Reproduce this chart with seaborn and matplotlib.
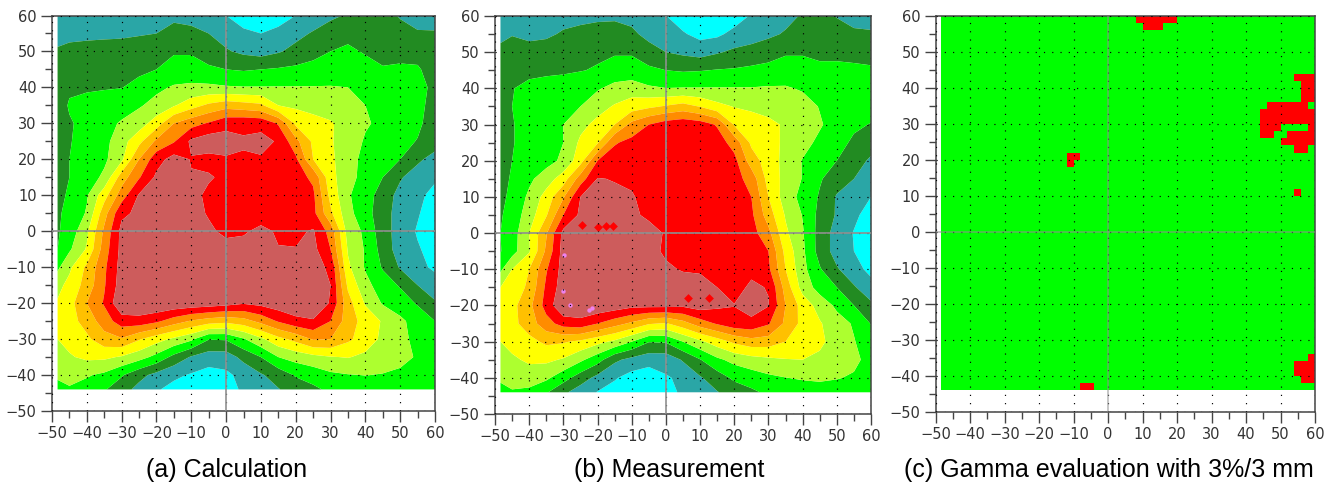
import matplotlib
matplotlib.use('Agg')
import matplotlib.pyplot as plt
import seaborn as sns
import numpy as np

# grid positions in mm
x_mm = [-48.4, -45, -40, -35, -30, -25, -20, -15, -10, -5, 0, 5, 10, 15, 20, 25, 30, 35, 40, 45, 50, 55, 60]
y_mm = [60, 55, 50, 45, 40, 35, 30, 25, 20, 15, 10, 5, 0, -5, -10, -15, -20, -25, -30, -35, -40, -44]

# dose, on the scale of the colour bands (one unit per band)
dose_calc = [
    [1.5, 1.5, 1.6, 1.6, 1.7, 1.7, 1.7, 1.8, 1.6, 1.3, 1.0, 0.5, 0.2, 0.5, 1.0, 1.4, 1.8, 2.1, 2.4, 2.4, 1.9, 1.6, 1.5],
    [1.7, 1.8, 1.8, 1.8, 1.8, 1.9, 2.0, 2.3, 2.3, 2.0, 1.6, 1.2, 1.0, 1.3, 1.7, 2.1, 2.5, 2.7, 2.8, 2.7, 2.4, 2.1, 2.1],
    [2.1, 2.2, 2.3, 2.4, 2.5, 2.6, 2.8, 2.9, 2.9, 2.4, 2.1, 1.8, 1.6, 1.9, 2.3, 2.7, 3.0, 3.2, 2.9, 2.8, 2.8, 2.7, 2.5],
    [2.4, 2.5, 2.5, 2.6, 2.7, 2.8, 3.0, 3.4, 3.4, 3.2, 3.0, 2.9, 3.0, 3.1, 3.2, 3.3, 3.5, 3.6, 3.4, 3.05, 3.1, 3.1, 2.6],
    [2.5, 2.85, 2.92, 2.93, 2.97, 3.3, 3.8, 4.1, 4.2, 4.2, 4.1, 4.05, 4.05, 4.05, 4.05, 4.05, 4.05, 4.0, 3.6, 3.5, 3.5, 3.4, 2.7],
    [2.5, 3.1, 3.2, 3.4, 3.6, 3.9, 4.3, 4.9, 5.6, 6.2, 6.6, 6.4, 6.2, 5.0, 4.8, 4.6, 4.5, 4.3, 4.0, 3.7, 3.5, 3.3, 2.6],
    [2.6, 2.9, 3.3, 3.7, 4.1, 4.5, 5.5, 7.0, 7.6, 8.1, 8.7, 8.8, 8.7, 7.9, 5.8, 5.4, 5.1, 4.6, 4.1, 3.8, 3.5, 3.2, 2.5],
    [2.6, 2.95, 3.3, 3.7, 4.6, 5.7, 7.2, 7.9, 9.2, 9.6, 9.4, 9.1, 9.3, 8.9, 7.3, 5.8, 5.1, 4.5, 3.9, 3.6, 3.3, 2.95, 2.5],
    [2.6, 3.0, 3.4, 3.8, 4.8, 7.0, 8.6, 9.4, 8.95, 8.7, 8.9, 8.9, 8.9, 8.95, 8.2, 6.0, 5.2, 4.4, 3.7, 3.3, 3.0, 2.2, 1.6],
    [2.7, 3.0, 3.5, 4.2, 6.5, 7.9, 9.2, 9.5, 9.05, 9.1, 8.8, 8.6, 8.5, 8.5, 8.4, 7.8, 5.3, 4.4, 3.6, 3.0, 2.1, 1.5, 1.2],
    [2.8, 3.1, 3.9, 5.6, 7.5, 9.1, 9.4, 9.5, 9.3, 8.8, 8.6, 8.5, 8.5, 8.5, 8.5, 8.2, 5.7, 4.1, 3.5, 2.5, 1.7, 1.3, 0.6],
    [2.9, 3.2, 4.1, 6.6, 8.8, 9.2, 9.4, 9.5, 9.4, 8.9, 8.6, 8.5, 8.6, 8.6, 8.5, 8.3, 6.2, 4.3, 3.4, 2.4, 1.6, 1.1, 0.4],
    [2.9, 3.4, 4.8, 7.2, 9.3, 9.5, 9.5, 9.5, 9.4, 9.2, 8.75, 8.9, 9.2, 8.9, 8.8, 9.1, 7.6, 4.6, 3.8, 2.4, 1.6, 0.9, 0.3],
    [3.0, 3.85, 5.1, 7.5, 9.3, 9.5, 9.6, 9.6, 9.5, 9.5, 9.4, 9.3, 9.3, 9.03, 9.03, 9.3, 8.0, 4.9, 3.9, 2.6, 1.5, 1.1, 0.6],
    [3.8, 4.8, 6.2, 7.8, 9.4, 9.6, 9.6, 9.6, 9.6, 9.6, 9.6, 9.5, 9.5, 9.5, 9.5, 9.4, 8.8, 5.2, 3.9, 2.9, 1.9, 1.3, 0.8],
    [4.7, 5.3, 6.4, 7.9, 9.5, 9.7, 9.7, 9.7, 9.6, 9.7, 9.7, 9.7, 9.7, 9.7, 9.6, 9.5, 9.0, 5.8, 4.3, 3.5, 2.9, 2.0, 1.5],
    [5.1, 5.6, 7.0, 8.1, 9.9, 9.9, 9.9, 9.8, 9.7, 9.6, 9.4, 9.1, 9.3, 9.6, 9.8, 9.8, 8.9, 6.4, 4.9, 3.9, 3.5, 2.9, 2.1],
    [5.3, 5.6, 6.4, 7.5, 8.5, 8.6, 8.2, 7.5, 6.9, 6.5, 6.3, 6.6, 7.3, 8.1, 8.7, 8.9, 8.0, 6.5, 5.6, 4.9, 4.2, 3.6, 3.0],
    [5.0, 5.3, 5.8, 6.6, 6.9, 6.1, 5.4, 4.8, 4.2, 3.05, 3.1, 3.9, 4.8, 5.7, 6.3, 7.1, 7.0, 6.2, 5.5, 4.8, 4.2, 3.8, 3.2],
    [4.3, 4.9, 5.2, 5.2, 4.9, 4.4, 3.7, 2.7, 1.9, 1.5, 1.5, 2.3, 3.0, 4.0, 4.4, 4.7, 4.95, 5.05, 4.8, 4.5, 4.3, 3.9, 3.3],
    [4.1, 4.3, 4.1, 3.8, 3.1, 2.3, 1.7, 1.2, 0.9, 0.6, 0.8, 1.3, 1.9, 2.4, 3.1, 3.4, 3.8, 3.95, 4.02, 3.95, 3.8, 3.6, 3.4],
    [3.8, 3.9, 3.6, 3.1, 2.4, 1.7, 1.1, 0.7, 0.4, 0.3, 0.5, 1.2, 1.6, 1.95, 2.4, 2.8, 3.2, 3.4, 3.5, 3.5, 3.5, 3.4, 3.3],
]

dose_meas = [
    [1.5, 1.5, 1.6, 1.6, 1.7, 1.7, 1.8, 1.8, 1.7, 1.4, 1.02, 0.5, 0.2, 0.2, 0.5, 1.1, 1.4, 1.7, 2.1, 2.3, 1.95, 1.6, 1.5],
    [1.8, 1.95, 1.8, 1.85, 2.1, 2.3, 2.4, 2.5, 2.2, 1.7, 1.4, 1.1, 0.7, 0.8, 1.3, 1.5, 1.8, 2.1, 2.4, 2.6, 2.4, 2.2, 2.15],
    [2.2, 2.4, 2.3, 2.4, 2.5, 2.6, 2.8, 2.9, 2.9, 2.4, 2.0, 1.8, 1.6, 1.9, 2.2, 2.4, 2.6, 2.9, 2.9, 2.8, 2.8, 2.7, 2.6],
    [2.4, 2.7, 2.7, 2.8, 2.85, 2.95, 3.1, 3.4, 3.4, 3.2, 3.0, 2.9, 2.95, 3.05, 3.1, 3.2, 3.3, 3.4, 3.4, 3.2, 3.2, 3.2, 3.15],
    [2.5, 2.95, 3.3, 3.4, 3.5, 3.7, 3.9, 4.3, 4.5, 4.15, 4.02, 4.05, 4.05, 4.05, 4.05, 4.05, 4.1, 4.1, 3.9, 3.6, 3.5, 3.5, 3.4],
    [2.6, 3.0, 3.3, 3.5, 3.7, 4.0, 4.6, 5.1, 5.5, 5.8, 6.1, 6.4, 5.95, 5.3, 4.95, 4.8, 4.7, 4.6, 4.4, 3.95, 3.6, 3.5, 3.4],
    [2.6, 2.95, 3.3, 3.6, 4.0, 4.7, 5.3, 6.0, 7.3, 8.0, 8.5, 8.7, 8.5, 7.9, 5.9, 5.5, 5.2, 4.9, 4.4, 4.1, 3.6, 3.2, 2.95],
    [2.6, 2.95, 3.3, 3.6, 4.0, 5.2, 5.9, 7.9, 8.3, 8.5, 8.6, 8.7, 8.7, 8.5, 7.6, 5.8, 5.4, 4.8, 4.3, 3.8, 3.4, 2.8, 2.4],
    [2.6, 3.0, 3.35, 3.65, 4.2, 5.6, 8.0, 8.5, 8.6, 8.7, 8.7, 8.7, 8.7, 8.6, 8.3, 6.5, 5.5, 4.7, 3.95, 3.5, 3.0, 2.4, 1.85],
    [2.7, 3.1, 3.8, 4.5, 5.5, 7.5, 9.05, 8.95, 8.9, 8.8, 8.7, 8.7, 8.7, 8.6, 8.4, 7.6, 5.6, 4.7, 3.95, 3.1, 2.5, 2.0, 1.6],
    [2.8, 3.2, 4.2, 5.4, 6.9, 9.0, 9.3, 9.2, 9.05, 8.8, 8.7, 8.7, 8.7, 8.6, 8.4, 8.0, 6.0, 4.5, 3.7, 2.9, 1.9, 1.5, 1.0],
    [2.9, 3.4, 4.5, 5.9, 8.0, 9.2, 9.4, 9.3, 9.1, 8.9, 8.7, 8.7, 8.7, 8.6, 8.5, 8.2, 6.5, 4.9, 3.95, 2.7, 1.9, 1.2, 0.6],
    [3.0, 3.5, 5.0, 6.9, 9.3, 9.5, 9.3, 9.4, 9.3, 9.2, 8.95, 8.8, 8.8, 8.7, 8.6, 8.4, 7.3, 5.2, 4.1, 2.6, 1.6, 0.95, 0.4],
    [2.95, 3.6, 4.9, 7.2, 9.4, 9.5, 9.4, 9.5, 9.4, 9.2, 8.9, 8.8, 8.8, 8.7, 8.6, 8.5, 8.0, 5.7, 4.2, 2.6, 1.6, 1.0, 0.5],
    [3.8, 5.0, 6.0, 7.9, 9.4, 9.5, 9.5, 9.5, 9.5, 9.4, 9.1, 8.95, 8.9, 8.8, 8.7, 8.8, 8.2, 6.0, 4.3, 3.1, 2.1, 1.4, 0.7],
    [5.0, 5.4, 6.2, 8.2, 9.5, 9.6, 9.6, 9.5, 9.5, 9.4, 9.3, 9.3, 9.3, 9.0, 8.7, 9.15, 8.95, 6.6, 4.6, 3.6, 3.0, 2.1, 1.4],
    [5.3, 5.7, 6.7, 8.4, 9.9, 9.9, 9.8, 9.6, 9.3, 9.3, 9.3, 9.2, 9.5, 9.2, 9.03, 9.5, 9.05, 7.0, 5.6, 4.6, 3.8, 3.0, 2.2],
    [5.4, 5.7, 6.5, 7.6, 8.4, 8.6, 8.0, 7.4, 6.8, 6.1, 5.9, 6.6, 7.5, 8.1, 8.6, 8.7, 8.1, 6.8, 5.7, 5.1, 4.4, 3.9, 2.95],
    [5.0, 5.4, 5.7, 6.2, 6.1, 5.8, 5.3, 4.8, 4.0, 3.05, 3.1, 4.0, 4.8, 5.5, 6.2, 6.6, 6.5, 6.0, 5.6, 5.2, 4.6, 4.05, 3.5],
    [4.4, 4.8, 5.2, 5.2, 4.9, 4.2, 3.4, 2.2, 1.7, 1.4, 1.4, 2.1, 2.95, 3.8, 4.3, 4.6, 4.8, 4.95, 5.0, 4.8, 4.5, 4.2, 3.7],
    [4.1, 4.4, 4.4, 4.2, 3.4, 2.5, 1.7, 1.1, 0.6, 0.4, 0.9, 1.2, 1.9, 2.5, 3.2, 3.5, 3.8, 3.98, 4.1, 4.15, 4.05, 3.9, 3.6],
    [3.8, 3.9, 3.8, 3.1, 2.2, 1.5, 0.95, 0.6, 0.3, 0.3, 0.6, 1.2, 1.6, 1.95, 2.4, 2.8, 3.2, 3.4, 3.5, 3.6, 3.6, 3.5, 3.3],
]

# small isolated spots in the measurement
pink_x = [-22.5, -21.5, -28, -30, -29.7]
pink_y = [-21.2, -20.6, -20, -16, -6]
hot_x = [-24.5, -20, -17.5, -15.5, 6.5, 12.5]
hot_y = [2.2, 1.8, 2.0, 2.0, -18, -18]

# gamma failures, one row of 2 mm cells per entry: top edge of the row, x start, x end
fail_top = [60, 58, 22, 20, 12, 44, 42, 40, 38, 36, 34, 32, 30, 30, 28, 28, 26, 24, -34, -36, -38, -40, -42]
fail_start = [8, 10, -12, -12, 54, 54, 56, 56, 56, 46, 44, 44, 44, 58, 44, 52, 50, 54, 58, 54, 54, 56, -8]
fail_end = [20, 16, -8, -10, 56, 60, 60, 60, 60, 58, 60, 60, 50, 60, 48, 60, 60, 58, 60, 60, 60, 60, -4]

major_ticks = [-50, -40, -30, -20, -10, 0, 10, 20, 30, 40, 50, 60]
minor_ticks = [-45, -35, -25, -15, -5, 5, 15, 25, 35, 45, 55]
captions = ['(a) Calculation', '(b) Measurement', '(c) Gamma evaluation with 3%/3 mm']

band_levels = [-1, 1, 2, 3, 4, 5, 6, 7, 8, 9, 10]
band_colors = ['#00ffff', '#2aa6a6', '#228b22', '#00ff00', '#adff2f', '#ffff00',
               '#ffc000', '#ff8c00', '#ff0000', '#cd5c5c']

sns.set_theme(style='ticks')
plt.rcParams['font.family'] = ['Liberation Sans', 'DejaVu Sans']


def style_axes(ax, cross_alpha=1.0):
    ax.set_xlim(-50, 60)
    ax.set_ylim(-50, 60)
    ax.set_xticks(major_ticks)
    ax.set_yticks(major_ticks)
    ax.set_xticks(minor_ticks, minor=True)
    ax.set_yticks(minor_ticks, minor=True)
    ax.tick_params(which='major', length=8, width=1, color='#444444', labelsize=10.5,
                   labelcolor='#333333', pad=3, labelfontfamily='DejaVu Sans')
    ax.tick_params(which='minor', length=5, width=1, color='#444444')
    ax.set_axisbelow(False)
    ax.grid(True, which='major', color='black', lw=0.85, linestyle=(0, (1, 6)))
    ax.axhline(0, color='#909090', lw=1.2, alpha=cross_alpha, zorder=4)
    ax.axvline(0, color='#909090', lw=1.2, alpha=cross_alpha, zorder=4)
    for spine in ax.spines.values():
        spine.set_visible(True)
        spine.set_color('#444444')
        spine.set_linewidth(1.1)


def dose_panel(ax, dose):
    ax.contourf(x_mm, y_mm, np.array(dose), levels=band_levels, colors=band_colors,
                antialiased=True, zorder=1)
    style_axes(ax)


def gamma_panel(ax):
    edges_x = np.array([-48.4] + list(range(-46, 62, 2)))
    edges_y = np.arange(-44, 62, 2)
    failed = np.zeros((len(edges_y) - 1, len(edges_x) - 1))
    for top, start, end in zip(fail_top, fail_start, fail_end):
        row = np.searchsorted(edges_y, top) - 1
        cols = (edges_x[:-1] >= start) & (edges_x[1:] <= end)
        failed[row, cols] = 1
    ax.pcolormesh(edges_x, edges_y, failed, cmap=matplotlib.colors.ListedColormap(['#00ff00', '#ff0000']),
                  vmin=0, vmax=1, zorder=1)
    style_axes(ax, cross_alpha=0.6)


W, H = 1335, 487
fig = plt.figure(figsize=(W / 100, H / 100), dpi=100)
boxes = [(52, 435, 15.5, 411), (495, 871, 16, 414), (935.5, 1315, 16, 411.5)]
axes = [fig.add_axes([l / W, 1 - b / H, (r - l) / W, (b - t) / H]) for l, r, t, b in boxes]

dose_panel(axes[0], dose_calc)
dose_panel(axes[1], dose_meas)
axes[1].scatter(hot_x, hot_y, s=20, marker='D', color='#ff0000', linewidths=0, zorder=2)
axes[1].scatter(pink_x, pink_y, s=10, marker='o', color='#ee82ee', linewidths=0, zorder=2)
gamma_panel(axes[2])

for caption, cx in zip(captions, [227, 669, 1109]):
    fig.text(cx / W, 1 - 470 / H, caption, ha='center', va='center', fontsize=18, color='black')

fig.savefig('out.png', dpi=100)
